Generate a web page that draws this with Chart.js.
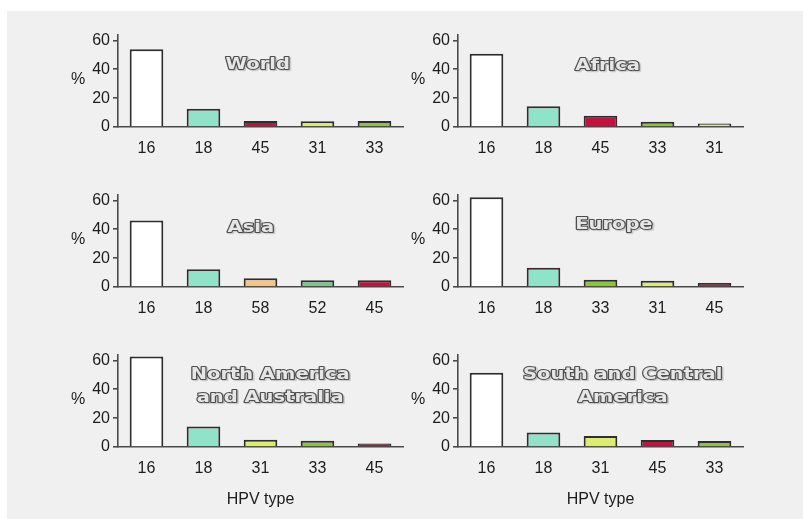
<!DOCTYPE html>
<html>
<head>
<meta charset="utf-8">
<script src="https://cdn.jsdelivr.net/npm/chart.js@4/dist/chart.umd.min.js"></script>
<style>
  html, body { margin: 0; padding: 0; background: #f0f0f0; }
  body { width: 803px; height: 519px; position: relative; overflow: hidden; }
  #edgeTop { position: absolute; left: 0; top: 0; width: 100%; height: 11px; background: #ffffff; }
  #edgeLeft { position: absolute; left: 0; top: 0; width: 7px; height: 100%; background: #ffffff; }
  .cell { position: absolute; width: 350px; height: 167px; }
  .cell canvas { display: block; }
</style>
</head>
<body>
<div id="edgeTop"></div>
<div id="edgeLeft"></div>
<div class="cell" style="left:58px;top:22px"><canvas id="g0"></canvas></div>
<div class="cell" style="left:398px;top:22px"><canvas id="g1"></canvas></div>
<div class="cell" style="left:58px;top:182px"><canvas id="g2"></canvas></div>
<div class="cell" style="left:398px;top:182px"><canvas id="g3"></canvas></div>
<div class="cell" style="left:58px;top:342px"><canvas id="g4"></canvas></div>
<div class="cell" style="left:398px;top:342px"><canvas id="g5"></canvas></div>
<script>
// HPV type prevalence (%) by region, five most common types in each
const worldTypes  = ['16', '18', '45', '31', '33'];
const worldValues = [53.8, 12.6, 4.1, 4.0, 4.1];

const africaTypes  = ['16', '18', '45', '33', '31'];
const africaValues = [50.7, 14.3, 7.8, 3.6, 2.4];

const asiaTypes  = ['16', '18', '58', '52', '45'];
const asiaValues = [46.1, 12.3, 6.1, 4.6, 4.6];

const europeTypes  = ['16', '18', '33', '31', '45'];
const europeValues = [62.2, 13.4, 5.1, 4.3, 2.7];

const naTypes  = ['16', '18', '31', '33', '45'];
const naValues = [62.7, 14.2, 5.1, 4.4, 2.4];

const scaTypes  = ['16', '18', '31', '45', '33'];
const scaValues = [51.4, 10.0, 7.7, 4.8, 4.2];

const yTicks = [0, 20, 40, 60];
const yTop = 64;

// fill colour for each HPV type
const typeColours = {
  '16': '#ffffff',
  '18': '#90e2c8',
  '45': '#c5113f',
  '31': '#dcec6e',
  '33': '#8cc43e',
  '58': '#f4c48c',
  '52': '#7fc28a'
};

const panels = [
  { id: 'g0', title: ['World'], types: worldTypes, values: worldValues, fx: 0.49, fy: [0.33], axisTitle: false },
  { id: 'g1', title: ['Africa'], types: africaTypes, values: africaValues, fx: 0.525, fy: [0.34], axisTitle: false },
  { id: 'g2', title: ['Asia'], types: asiaTypes, values: asiaValues, fx: 0.466, fy: [0.36], axisTitle: false },
  { id: 'g3', title: ['Europe'], types: europeTypes, values: europeValues, fx: 0.547, fy: [0.33], axisTitle: false },
  { id: 'g4', title: ['North America', 'and Australia'], types: naTypes, values: naValues, fx: 0.534, fy: [0.22, 0.475], axisTitle: true },
  { id: 'g5', title: ['South and Central', 'America'], types: scaTypes, values: scaValues, fx: 0.578, fy: [0.225, 0.47], axisTitle: true }
];

const textFont = '"Liberation Sans", Arial, sans-serif';

// embossed region name plus the horizontal "%" unit label
const panelDecor = {
  id: 'panelDecor',
  afterDraw(chart, args, opts) {
    const { ctx, chartArea } = chart;
    const w = chartArea.right - chartArea.left;
    const h = chartArea.bottom - chartArea.top;

    ctx.save();
    ctx.font = '16px ' + textFont;
    ctx.fillStyle = '#1c1c1c';
    ctx.textAlign = 'center';
    ctx.textBaseline = 'middle';
    ctx.fillText('%', chartArea.left - 40, chartArea.top + 0.485 * h);
    ctx.restore();

    opts.lines.forEach((line, i) => {
      ctx.save();
      ctx.translate(chartArea.left + opts.fx * w, chartArea.top + opts.fy[i] * h);
      ctx.scale(1.3, 1);
      ctx.font = 'bold 15px "DejaVu Sans", sans-serif';
      ctx.textAlign = 'center';
      ctx.textBaseline = 'middle';
      ctx.lineJoin = 'round';
      ctx.strokeStyle = 'rgba(0,0,0,0.15)';
      ctx.lineWidth = 2.5;
      ctx.strokeText(line, 1, 1);
      ctx.strokeStyle = '#4e4e4e';
      ctx.lineWidth = 2;
      ctx.strokeText(line, 0, 0);
      ctx.fillStyle = '#e6e6e6';
      ctx.fillText(line, 0, 0);
      ctx.restore();
    });
  }
};

panels.forEach(p => {
  const canvas = document.getElementById(p.id);
  new Chart(canvas, {
    type: 'bar',
    data: {
      labels: p.types,
      datasets: [{
        data: p.values,
        backgroundColor: p.types.map(t => typeColours[t]),
        borderColor: '#2e2e2e',
        borderWidth: 2,
        borderSkipped: 'start',
        categoryPercentage: 1.0,
        barPercentage: 0.59
      }]
    },
    options: {
      responsive: true,
      maintainAspectRatio: false,
      animation: false,
      devicePixelRatio: 1,
      layout: { padding: { top: 10, right: 5, bottom: 0, left: 0 } },
      plugins: {
        legend: { display: false },
        tooltip: { enabled: false },
        panelDecor: { lines: p.title, fx: p.fx, fy: p.fy }
      },
      scales: {
        x: {
          grid: { display: false, drawTicks: false },
          border: { display: true, color: '#4a4a4a', width: 1.6 },
          ticks: {
            color: '#1c1c1c',
            padding: 12,
            font: { family: textFont, size: 16 }
          },
          title: {
            display: p.axisTitle,
            text: 'HPV type',
            color: '#1c1c1c',
            padding: { top: 0, bottom: 0 },
            font: { family: textFont, size: 16 }
          },
          afterFit(scale) { scale.height = 62; }
        },
        y: {
          min: 0,
          max: yTop,
          grid: { drawOnChartArea: false, drawTicks: true, tickLength: 5, tickColor: '#4a4a4a', lineWidth: 1.6 },
          border: { display: true, color: '#4a4a4a', width: 1.6 },
          ticks: {
            color: '#1c1c1c',
            padding: 3,
            font: { family: textFont, size: 16 }
          },
          afterBuildTicks(scale) { scale.ticks = yTicks.map(v => ({ value: v })); },
          afterFit(scale) { scale.width = 60; }
        }
      }
    },
    plugins: [panelDecor]
  });
});
</script>
</body>
</html>
